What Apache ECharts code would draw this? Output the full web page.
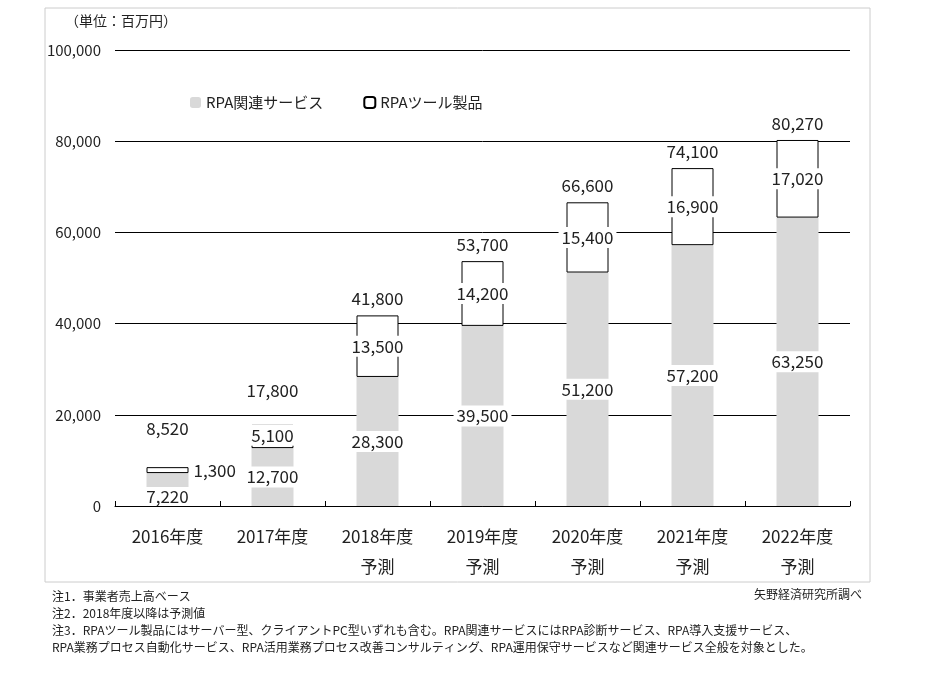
<!DOCTYPE html>
<html><head><meta charset="utf-8">
<script src="https://cdn.jsdelivr.net/npm/echarts@6/dist/echarts.min.js"></script>
<style>body{margin:0;background:#fff}#c{width:930px;height:680px}</style>
</head><body><div id="c"></div>
<script>
const years = ["2016年度", "2017年度", "2018年度\n予測", "2019年度\n予測", "2020年度\n予測", "2021年度\n予測", "2022年度\n予測"];
const service = [7220, 12700, 28300, 39500, 51200, 57200, 63250];
const tool = [1300, 5100, 13500, 14200, 15400, 16900, 17020];
const totals = [8520, 17800, 41800, 53700, 66600, 74100, 80270];

const font = "'Noto Sans CJK JP', sans-serif";
const fmt = v => v.toLocaleString("en-US");
const boxLabel = {
  show: true, position: "inside", color: "#222", fontSize: 17, fontFamily: font,
  backgroundColor: "#fff", padding: [2, 3], formatter: p => fmt(p.value)
};

const serviceData = service.map((v, i) => {
  if (i === 0) return { value: v, label: { position: "insideBottom", distance: 0, padding: [1, 20] } };
  return v;
});
const toolData = tool.map((v, i) => {
  if (i === 0) return { value: v, label: { position: "right", distance: 2, backgroundColor: "transparent" } };
  if (i === 1) return { value: v, label: { position: "insideTop", distance: 0, padding: [2, 6] } };
  return v;
});
const totalData = totals.map((v, i) => {
  if (i === 0) return { value: 0, label: { offset: [0, -22] } };
  if (i === 1) return { value: 0, label: { offset: [0, -18] } };
  return 0;
});

const chart = echarts.init(document.getElementById("c"));
chart.setOption({
  animation: false,
  graphic: [
    { type: "rect", shape: { x: 45, y: 8, width: 825, height: 574 }, style: { fill: "none", stroke: "#ccc" } },
    { type: "text", left: 65, top: 14, style: { text: "（単位：百万円）", font: "14px " + font, fill: "#222" } },
    { type: "text", left: 52, top: 588, style: { text: "注1．事業者売上高ベース\n注2．2018年度以降は予測値\n注3．RPAツール製品にはサーバー型、クライアントPC型いずれも含む。RPA関連サービスにはRPA診断サービス、RPA導入支援サービス、\nRPA業務プロセス自動化サービス、RPA活用業務プロセス改善コンサルティング、RPA運用保守サービスなど関連サービス全般を対象とした。", font: "12px " + font, fill: "#222", lineHeight: 17 } },
    { type: "text", right: 68, top: 588, style: { text: "矢野経済研究所調べ", font: "12px " + font, fill: "#222" } }
  ],
  legend: {
    left: 185, top: 90, itemWidth: 11, itemHeight: 11, itemGap: 40,
    textStyle: { fontSize: 15, fontFamily: font, color: "#222" },
    data: ["RPA関連サービス", "RPAツール製品"]
  },
  grid: { left: 115, right: 80, top: 50, bottom: 174 },
  xAxis: {
    type: "category", data: years,
    axisLine: { lineStyle: { color: "#000" } },
    axisTick: { show: true, length: 5, inside: true, lineStyle: { color: "#000" } },
    axisLabel: { fontSize: 17, fontFamily: font, color: "#222", margin: 16, lineHeight: 30 }
  },
  yAxis: {
    type: "value", min: 0, max: 100000, interval: 20000,
    axisLine: { show: false }, axisTick: { show: false },
    splitLine: { lineStyle: { color: "#000" } },
    axisLabel: { fontSize: 15, fontFamily: font, color: "#222", margin: 14, formatter: fmt }
  },
  series: [
    { name: "RPA関連サービス", type: "bar", stack: "a", barWidth: 42, data: serviceData,
      itemStyle: { color: "#d9d9d9" }, label: boxLabel },
    { name: "RPAツール製品", type: "bar", stack: "a", data: toolData,
      itemStyle: { color: "#fff", borderColor: "#000", borderWidth: 1 }, label: boxLabel },
    { name: "total", type: "bar", stack: "a", data: totalData, itemStyle: { color: "transparent" },
      label: { show: true, position: "top", distance: 8, color: "#222", fontSize: 17, fontFamily: font,
        formatter: p => fmt(totals[p.dataIndex]) } }
  ]
});
</script></body></html>
